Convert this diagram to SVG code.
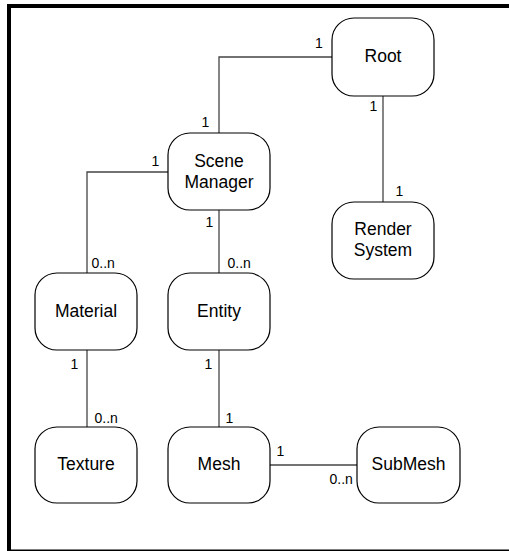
<svg xmlns="http://www.w3.org/2000/svg" width="509" height="551" viewBox="0 0 509 551">
  <style>
    .node rect { fill: #fff; stroke: #000; stroke-width: 1.2; }
    .node text { font-family: "Liberation Sans", Arial, sans-serif; font-size: 17.5px; fill: #000; text-anchor: middle; }
    .links path { fill: none; stroke: #444; stroke-width: 1.3; }
    .mult { font-family: "Liberation Sans", Arial, sans-serif; font-size: 14px; fill: #000; }
  </style>
  <rect width="509" height="551" fill="#fff"/>
  <!-- frame -->
  <path d="M9 551 V6 H509" fill="none" stroke="#000" stroke-width="4"/>
  <path d="M9 550.2 H509" fill="none" stroke="#000" stroke-width="1.6"/>

  <g class="links">
    <path d="M332 57 H219 V133"/>
    <path d="M383 96 V202"/>
    <path d="M168 172 H87 V273"/>
    <path d="M219 210 V273"/>
    <path d="M87 350 V427"/>
    <path d="M219 350 V427"/>
    <path d="M270 465 H357"/>
  </g>

  <g class="labels">
    <text class="mult" x="315" y="47.5">1</text>
    <text class="mult" x="201.5" y="127">1</text>
    <text class="mult" x="151.5" y="166">1</text>
    <text class="mult" x="369.5" y="111">1</text>
    <text class="mult" x="395.5" y="196">1</text>
    <text class="mult" x="205.5" y="226.5">1</text>
    <text class="mult" x="91.5" y="267.5">0..n</text>
    <text class="mult" x="227.5" y="267.5">0..n</text>
    <text class="mult" x="70.5" y="369">1</text>
    <text class="mult" x="204.5" y="369">1</text>
    <text class="mult" x="94.5" y="422.5">0..n</text>
    <text class="mult" x="225.5" y="422.5">1</text>
    <text class="mult" x="276.5" y="456">1</text>
    <text class="mult" x="329.5" y="484">0..n</text>
  </g>

  <g id="root" class="node">
    <rect x="332" y="18" width="102" height="78" rx="22"/>
    <text x="383" y="62">Root</text>
  </g>
  <g id="scene-manager" class="node">
    <rect x="168" y="133" width="102" height="77" rx="22"/>
    <text x="219" y="166.5">Scene</text>
    <text x="219" y="187.5">Manager</text>
  </g>
  <g id="render-system" class="node">
    <rect x="332" y="202" width="102" height="77" rx="22"/>
    <text x="383" y="235">Render</text>
    <text x="383" y="256">System</text>
  </g>
  <g id="material" class="node">
    <rect x="35" y="273" width="102" height="77" rx="22"/>
    <text x="86" y="316.5">Material</text>
  </g>
  <g id="entity" class="node">
    <rect x="168" y="273" width="102" height="77" rx="22"/>
    <text x="219" y="316.5">Entity</text>
  </g>
  <g id="texture" class="node">
    <rect x="35" y="427" width="102" height="76" rx="22"/>
    <text x="86" y="470">Texture</text>
  </g>
  <g id="mesh" class="node">
    <rect x="168" y="427" width="102" height="76" rx="22"/>
    <text x="219" y="470">Mesh</text>
  </g>
  <g id="submesh" class="node">
    <rect x="357" y="427" width="103" height="76" rx="22"/>
    <text x="408.5" y="470">SubMesh</text>
  </g>
</svg>
